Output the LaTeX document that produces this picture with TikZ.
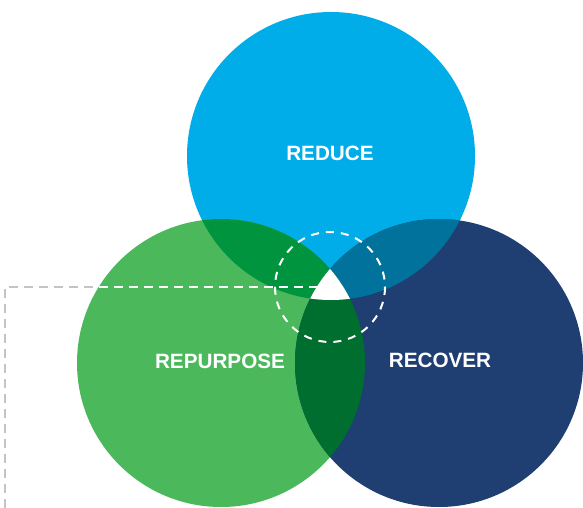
\documentclass[tikz,border=0pt]{standalone}
\usepackage{fontspec}
\setmainfont{Liberation Sans}
\usetikzlibrary{positioning}
\definecolor{Sky}{HTML}{00ADE9}
\definecolor{Leaf}{HTML}{4CB85C}
\definecolor{Navy}{HTML}{1F3E72}
\definecolor{SkyLeaf}{HTML}{00943F}
\definecolor{SkyNavy}{HTML}{00729C}
\definecolor{LeafNavy}{HTML}{006E2E}
\definecolor{Guide}{HTML}{C4C4C4}

\begin{document}
\begin{tikzpicture}[x=1pt,y=-1pt, every node/.style={font=\bfseries\fontsize{20.7}{24}\selectfont,text=white}]
    \useasboundingbox (0,0) rectangle (583,508);
    \coordinate (c1) at (331,156);
    \coordinate (c2) at (221,363);
    \coordinate (c3) at (439,363);
    % the three discs
    \fill[Sky] (c1) circle[radius=144];
    \fill[Leaf] (c2) circle[radius=144];
    \fill[Navy] (c3) circle[radius=144];
    % overlaps
    \begin{scope}
      \clip (c1) circle[radius=144];
      \fill[SkyLeaf] (c2) circle[radius=144];
      \fill[SkyNavy] (c3) circle[radius=144];
    \end{scope}
    \begin{scope}
      \clip (c2) circle[radius=144];
      \fill[LeafNavy] (c3) circle[radius=144];
      \clip (c3) circle[radius=144];
      \fill[white] (c1) circle[radius=144];
    \end{scope}
    % guide line
    \coordinate (foot) at (5,508);
    \coordinate (corner) at (5,287);
    \coordinate (tip) at (318,287);
    \draw[Guide,line width=2pt,dash pattern=on 9pt off 6pt] (foot)--(corner)--(tip);
    \begin{scope}
      \clip (c2) circle[radius=144];
      \draw[white,line width=2pt,dash pattern=on 9pt off 6pt] (foot)--(corner)--(tip);
    \end{scope}
    \draw[white,line width=2pt,dash pattern=on 8pt off 7pt] (330,287) circle[radius=55];
    % labels
    \node (reduce) at (330,153) {REDUCE};
    \node (repurpose) at (220,361) {REPURPOSE};
    \node (recover) at (440,360) {RECOVER};
  \end{tikzpicture}
\end{document}
